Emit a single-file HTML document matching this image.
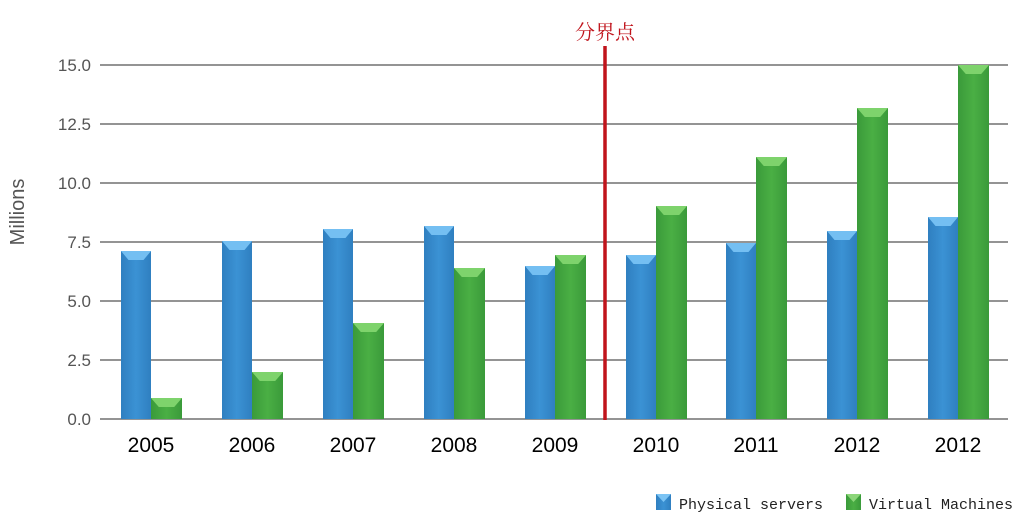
<!DOCTYPE html>
<html><head><meta charset="utf-8"><style>body{margin:0;background:#fff}svg{display:block}</style></head><body>
<svg width="1028" height="518" xmlns="http://www.w3.org/2000/svg">
<defs>
<linearGradient id="b" x1="0" x2="1"><stop offset="0" stop-color="#2f7fc0"/><stop offset="0.5" stop-color="#3b92d4"/><stop offset="1" stop-color="#2f7fc0"/></linearGradient>
<linearGradient id="g" x1="0" x2="1"><stop offset="0" stop-color="#3a9a3a"/><stop offset="0.5" stop-color="#4aaf44"/><stop offset="1" stop-color="#3a9a3a"/></linearGradient>
</defs>
<g stroke="#555" stroke-width="1.3">
<line x1="100" x2="1008" y1="65" y2="65"/><line x1="100" x2="1008" y1="124" y2="124"/><line x1="100" x2="1008" y1="183" y2="183"/><line x1="100" x2="1008" y1="242" y2="242"/><line x1="100" x2="1008" y1="301" y2="301"/><line x1="100" x2="1008" y1="360" y2="360"/><line x1="100" x2="1008" y1="419" y2="419"/>
</g>
<g font-family="Liberation Sans, sans-serif" font-size="17" fill="#555" text-anchor="end">
<text x="91" y="71">15.0</text><text x="91" y="130">12.5</text><text x="91" y="189">10.0</text><text x="91" y="248">7.5</text><text x="91" y="307">5.0</text><text x="91" y="366">2.5</text><text x="91" y="425">0.0</text>
</g>
<text transform="translate(24,212) rotate(-90)" font-family="Liberation Sans, sans-serif" font-size="20" fill="#555" text-anchor="middle">Millions</text>
<g>
<rect x="121" y="251" width="30" height="168" fill="url(#b)"/><polygon points="121,251 151,251 143.5,260 128.5,260" fill="#74bff2"/>
<rect x="151" y="398" width="31" height="21" fill="url(#g)"/><polygon points="151,398 182,398 174.2,407 158.8,407" fill="#7ed36c"/>
<rect x="222" y="241" width="30" height="178" fill="url(#b)"/><polygon points="222,241 252,241 244.5,250 229.5,250" fill="#74bff2"/>
<rect x="252" y="372" width="31" height="47" fill="url(#g)"/><polygon points="252,372 283,372 275.2,381 259.8,381" fill="#7ed36c"/>
<rect x="323" y="229" width="30" height="190" fill="url(#b)"/><polygon points="323,229 353,229 345.5,238 330.5,238" fill="#74bff2"/>
<rect x="353" y="323" width="31" height="96" fill="url(#g)"/><polygon points="353,323 384,323 376.2,332 360.8,332" fill="#7ed36c"/>
<rect x="424" y="226" width="30" height="193" fill="url(#b)"/><polygon points="424,226 454,226 446.5,235 431.5,235" fill="#74bff2"/>
<rect x="454" y="268" width="31" height="151" fill="url(#g)"/><polygon points="454,268 485,268 477.2,277 461.8,277" fill="#7ed36c"/>
<rect x="525" y="266" width="30" height="153" fill="url(#b)"/><polygon points="525,266 555,266 547.5,275 532.5,275" fill="#74bff2"/>
<rect x="555" y="255" width="31" height="164" fill="url(#g)"/><polygon points="555,255 586,255 578.2,264 562.8,264" fill="#7ed36c"/>
<rect x="626" y="255" width="30" height="164" fill="url(#b)"/><polygon points="626,255 656,255 648.5,264 633.5,264" fill="#74bff2"/>
<rect x="656" y="206" width="31" height="213" fill="url(#g)"/><polygon points="656,206 687,206 679.2,215 663.8,215" fill="#7ed36c"/>
<rect x="726" y="243" width="30" height="176" fill="url(#b)"/><polygon points="726,243 756,243 748.5,252 733.5,252" fill="#74bff2"/>
<rect x="756" y="157" width="31" height="262" fill="url(#g)"/><polygon points="756,157 787,157 779.2,166 763.8,166" fill="#7ed36c"/>
<rect x="827" y="231" width="30" height="188" fill="url(#b)"/><polygon points="827,231 857,231 849.5,240 834.5,240" fill="#74bff2"/>
<rect x="857" y="108" width="31" height="311" fill="url(#g)"/><polygon points="857,108 888,108 880.2,117 864.8,117" fill="#7ed36c"/>
<rect x="928" y="217" width="30" height="202" fill="url(#b)"/><polygon points="928,217 958,217 950.5,226 935.5,226" fill="#74bff2"/>
<rect x="958" y="65" width="31" height="354" fill="url(#g)"/><polygon points="958,65 989,65 981.2,74 965.8,74" fill="#7ed36c"/>
</g>
<line x1="605" x2="605" y1="46" y2="420" stroke="#c0141c" stroke-width="3.5"/>
<text x="605" y="39" font-family="Noto Serif CJK SC, serif" font-size="20" fill="#c0141c" text-anchor="middle">分界点</text>
<g font-family="Liberation Sans, sans-serif" font-size="21" fill="#000" text-anchor="middle">
<text x="151" y="452">2005</text><text x="252" y="452">2006</text><text x="353" y="452">2007</text><text x="454" y="452">2008</text><text x="555" y="452">2009</text><text x="656" y="452">2010</text><text x="756" y="452">2011</text><text x="857" y="452">2012</text><text x="958" y="452">2012</text>
</g>
<rect x="656" y="494" width="15" height="16" fill="url(#b)"/><polygon points="656,494 671,494 663.5,502" fill="#7cc4f4"/>
<text x="679" y="509" font-family="Liberation Mono, monospace" font-size="15" fill="#222">Physical servers</text>
<rect x="846" y="494" width="15" height="16" fill="url(#g)"/><polygon points="846,494 861,494 853.5,502" fill="#8cd67a"/>
<text x="869" y="509" font-family="Liberation Mono, monospace" font-size="15" fill="#222">Virtual Machines</text>
</svg>
</body></html>
